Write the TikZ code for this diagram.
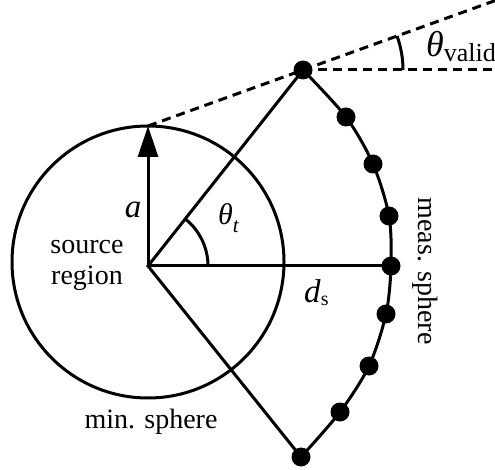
\documentclass[tikz,border=0pt]{standalone}
\usepackage{fontspec}
\setmainfont{Liberation Serif}
\usetikzlibrary{arrows.meta,calc}
\begin{document}
\begin{tikzpicture}[x=1pt,y=1pt,
  thickline/.style={line width=3pt},
  dashline/.style={line width=3pt, dash pattern=on 9pt off 6pt},
  measdot/.style={circle, fill=black, inner sep=0pt, minimum size=19pt},
  lbl/.style={inner sep=0pt, font=\fontsize{28}{31}\selectfont},
  biglbl/.style={inner sep=0pt, font=\fontsize{33}{36}\selectfont}]
\useasboundingbox (0,0) rectangle (495,469);
% centre and minimum sphere
\coordinate (V) at (148,203);
\node[circle, draw, thickline, minimum size=272pt, inner sep=0pt] (minsph) at (148,207) {};
\coordinate (A) at (148,343);
% measurement points
\coordinate (p0) at (303,399);
\coordinate (p1) at (346,352);
\coordinate (p2) at (373,305);
\coordinate (p3) at (389,253);
\coordinate (p4) at (391,203);
\coordinate (p5) at (386,155);
\coordinate (p6) at (369,103);
\coordinate (p7) at (340,57);
\coordinate (p8) at (301,12);
% dashed lines
\coordinate (E1) at ($(A)!2.24!(p0)$);
\coordinate (E2) at (495,399);
\draw[dashline] (A) -- (E1);
\draw[dashline] (p0) -- (E2);
\draw[thickline] ($(p0)+(100,0)$) arc[start angle=0, end angle=19.9, radius=100];
% measurement sphere arc
\draw[thickline] plot[smooth] coordinates {(p0) (p1) (p2) (p3) (p4) (p5) (p6) (p7) (p8)};
% radial lines
\draw[thickline, line join=miter] (p0) -- (V) -- (p8);
\draw[thickline] (V) -- (p4);
\draw[thickline, -{Triangle[length=31pt,width=20pt]}] (V) -- (A);
% theta_t angle
\draw[thickline] ($(V)+(60,0)$) arc[start angle=0, end angle=51.7, radius=60];
% dots
\foreach \i in {0,...,8} \node[measdot] (m\i) at (p\i) {};
% labels
\node[biglbl] (la) at (133,259) {\textit{a}};
\node[lbl, anchor=west] (lth) at (218,251) {\fontsize{30}{30}\selectfont\textit{θ}\raisebox{-8pt}{\fontsize{21}{21}\selectfont\textit{t}}};
\node[biglbl, anchor=west] (lds) at (304,176) {\textit{d}\raisebox{-3pt}{\fontsize{20}{20}\selectfont s}};
\node[lbl, align=center] (lsrc) at (87,204) {source\\region};
\node[lbl] (lmin) at (151,47) {min. sphere};
\node[lbl, rotate=-90] (lmeas) at (425,198) {meas. sphere};
\node[inner sep=0pt, anchor=west, font=\fontsize{36}{36}\selectfont] (lval) at (426,422) {\textit{θ}\raisebox{-5pt}{\fontsize{26}{26}\selectfont valid}};
\end{tikzpicture}
\end{document}
